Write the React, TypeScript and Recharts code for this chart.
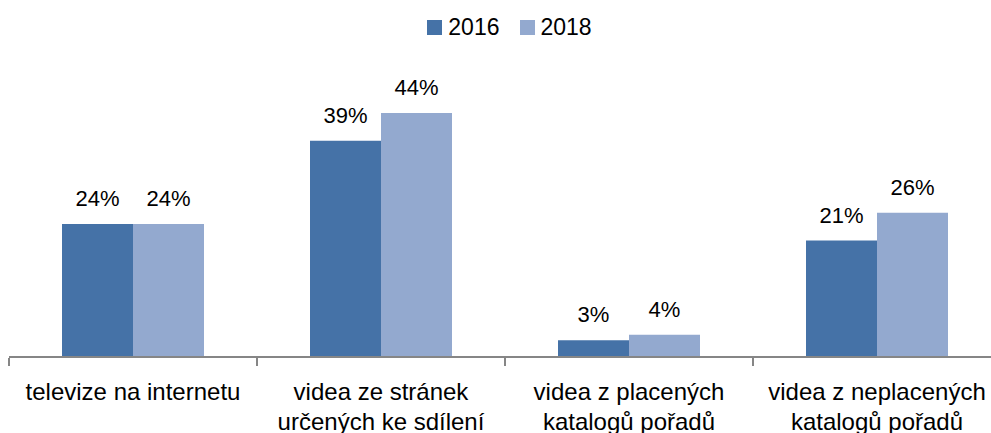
import React from "react";
import { BarChart, Bar, XAxis, YAxis, Legend, LabelList } from "recharts";

const categories = [
  "televize na internetu",
  "videa ze stránek určených ke sdílení",
  "videa z placených katalogů pořadů",
  "videa z neplacených katalogů pořadů",
];
const values2016 = [24, 39, 3, 21];
const values2018 = [24, 44, 4, 26];
const seriesNames = ["2016", "2018"];
const seriesColors = ["#4572A7", "#93A9CF"];

const data = categories.map((name, i) => ({
  name,
  v2016: values2016[i],
  v2018: values2018[i],
}));

const FONT = "'Liberation Sans', Arial, sans-serif";
const AXIS_COLOR = "#868686";
const MAX_CHARS = 21;

const wrapWords = (s: string): string[] => {
  const words = String(s).split(" ");
  const lines: string[] = [];
  let cur = "";
  for (const w of words) {
    const next = cur ? cur + " " + w : w;
    if (next.length > MAX_CHARS && cur) {
      lines.push(cur);
      cur = w;
    } else {
      cur = next;
    }
  }
  if (cur) lines.push(cur);
  return lines;
};

const CategoryTick = (props: any) => {
  const { x, y, payload } = props;
  const half = typeof payload?.offset === "number" && payload.offset > 0 ? payload.offset : 124;
  const lines = wrapWords(payload.value);
  return (
    <g>
      <line x1={x - half} x2={x - half} y1={y + 1} y2={y + 9} stroke={AXIS_COLOR} strokeWidth={2} />
      <text
        x={x}
        y={y + 43}
        textAnchor="middle"
        style={{ fontFamily: FONT, fontSize: 24, fill: "#000" }}
      >
        {lines.map((l, i) => (
          <tspan key={i} x={x} dy={i === 0 ? 0 : 30}>
            {l}
          </tspan>
        ))}
      </text>
    </g>
  );
};

const LegendContent = () => (
  <div
    style={{
      display: "flex",
      justifyContent: "center",
      alignItems: "center",
      height: 40,
      fontFamily: FONT,
      fontSize: 23,
      color: "#000",
    }}
  >
    {seriesNames.map((n, i) => (
      <div
        key={n}
        style={{ display: "flex", alignItems: "center", marginRight: i === 0 ? 20 : 0 }}
      >
        <span
          style={{ display: "inline-block", width: 15, height: 15, background: seriesColors[i], marginRight: 6 }}
        />
        <span>{n}</span>
      </div>
    ))}
  </div>
);

const labelFmt = (v: any) => `${v}%`;

export default function App() {
  return (
    <div
      style={{
        position: "absolute",
        left: 0,
        top: 0,
        width: 991,
        height: 433,
        overflow: "hidden",
        background: "#fff",
      }}
    >
      <BarChart
        width={1001}
        height={433}
        data={data}
        margin={{ top: 12, right: 0, left: 9, bottom: 0 }}
        barCategoryGap={53}
        barGap={0}
      >
        <Legend
          verticalAlign="top"
          content={<LegendContent />}
          wrapperStyle={{ top: 7, left: 0, width: 1019, height: 40 }}
        />
        <XAxis
          dataKey="name"
          height={76}
          interval={0}
          tickLine={false}
          tickSize={0}
          tickMargin={0}
          axisLine={{ stroke: AXIS_COLOR, strokeWidth: 2 }}
          tick={<CategoryTick />}
        />
        <YAxis hide domain={[0, 55]} />
        <Bar dataKey="v2016" name={seriesNames[0]} fill={seriesColors[0]} isAnimationActive={false}>
          <LabelList
            dataKey="v2016"
            position="top"
            offset={18}
            formatter={labelFmt}
            style={{ fontFamily: FONT, fontSize: 22, fill: "#000" }}
          />
        </Bar>
        <Bar dataKey="v2018" name={seriesNames[1]} fill={seriesColors[1]} isAnimationActive={false}>
          <LabelList
            dataKey="v2018"
            position="top"
            offset={18}
            formatter={labelFmt}
            style={{ fontFamily: FONT, fontSize: 22, fill: "#000" }}
          />
        </Bar>
      </BarChart>
    </div>
  );
}
